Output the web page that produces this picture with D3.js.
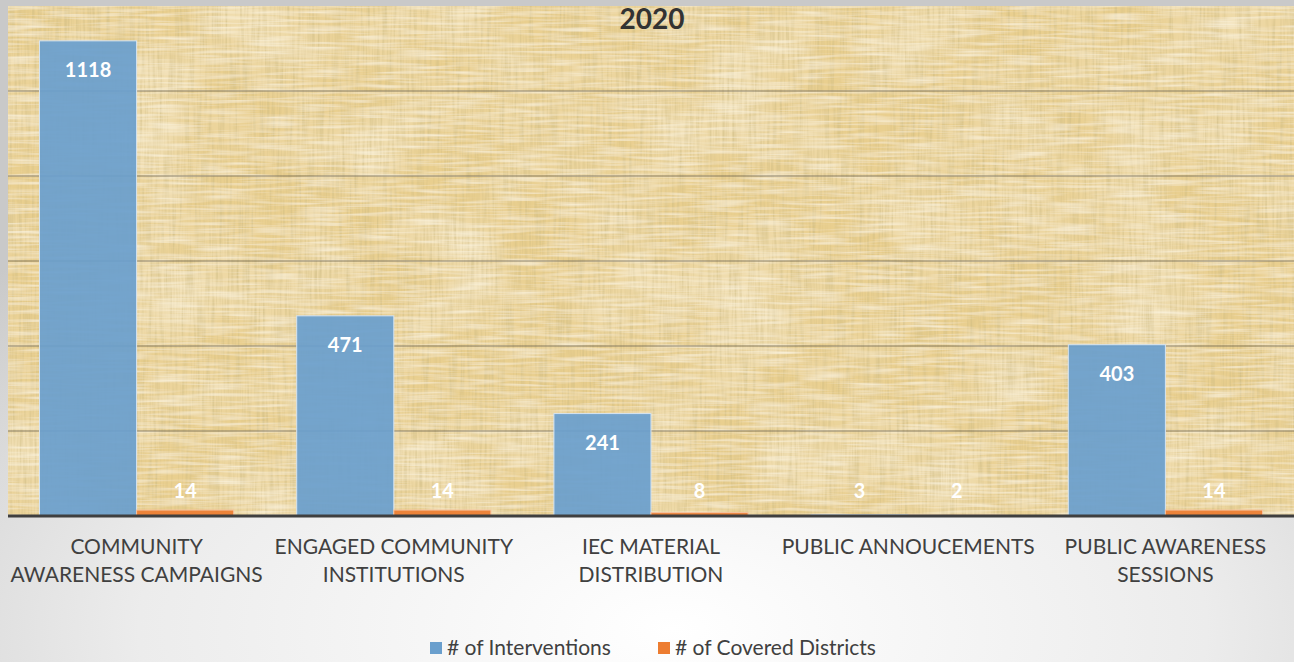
<!DOCTYPE html>
<html>
<head>
<meta charset="utf-8">
<script src="https://cdn.jsdelivr.net/npm/d3@7"></script>
<style>
  body { margin: 0; background: #fff; }
  svg { display: block; }
</style>
</head>
<body>
<svg id="chart" width="1294" height="662"></svg>
<script>
const categories = [
    ["COMMUNITY", "AWARENESS CAMPAIGNS"],
    ["ENGAGED COMMUNITY", "INSTITUTIONS"],
    ["IEC MATERIAL", "DISTRIBUTION"],
    ["PUBLIC ANNOUCEMENTS"],
    ["PUBLIC AWARENESS", "SESSIONS"],
];
const seriesNames = ["# of Interventions", "# of Covered Districts"];
const interventions = [1118, 471, 241, 3, 403];
const coveredDistricts = [14, 14, 8, 2, 14];
const yTicks = [0, 200, 400, 600, 800, 1000, 1200];
const colors = ["#6a9fcd", "#ed7d31"];

const W = 1294, H = 662;
const plot = { left: 8, right: 1294, top: 6, bottom: 516 };
const font = "Lato, 'Open Sans', sans-serif";

const svg = d3.select("#chart");
const defs = svg.append("defs");

// page background: soft grey radial gradient
const bg = defs.append("radialGradient").attr("id", "bg")
    .attr("cx", "52%").attr("cy", "95%").attr("r", "75%");
bg.append("stop").attr("offset", "0%").attr("stop-color", "#ffffff");
bg.append("stop").attr("offset", "55%").attr("stop-color", "#ececec");
bg.append("stop").attr("offset", "100%").attr("stop-color", "#c9c9c9");
svg.append("rect").attr("width", W).attr("height", H).attr("fill", "url(#bg)");

// papyrus-like texture for the plot area
const f = defs.append("filter").attr("id", "papyrus")
    .attr("x", 0).attr("y", 0).attr("width", 1).attr("height", 1);
f.append("feFlood").attr("flood-color", "#e9cf8f").attr("result", "base");
f.append("feTurbulence").attr("type", "fractalNoise")
    .attr("baseFrequency", "0.01 0.012").attr("numOctaves", 2).attr("seed", 5)
    .attr("result", "blot");
f.append("feColorMatrix").attr("in", "blot").attr("type", "matrix")
    .attr("values", "0 0 0 0 0.97  0 0 0 0 0.9  0 0 0 0 0.7  0 0 0 1.0 -0.4")
    .attr("result", "blotC");
f.append("feTurbulence").attr("type", "fractalNoise")
    .attr("baseFrequency", "0.4 0.02").attr("numOctaves", 2).attr("seed", 3)
    .attr("result", "vert");
f.append("feColorMatrix").attr("in", "vert").attr("type", "matrix")
    .attr("values", "0 0 0 0 0.62  0 0 0 0 0.5  0 0 0 0 0.22  0 0 0 1.4 -0.55")
    .attr("result", "vertC");
f.append("feTurbulence").attr("type", "fractalNoise")
    .attr("baseFrequency", "0.02 0.35").attr("numOctaves", 2).attr("seed", 8)
    .attr("result", "hor");
f.append("feColorMatrix").attr("in", "hor").attr("type", "matrix")
    .attr("values", "0 0 0 0 0.99  0 0 0 0 0.94  0 0 0 0 0.8  0 0 0 1.3 -0.5")
    .attr("result", "horC");
const merge = f.append("feMerge");
merge.append("feMergeNode").attr("in", "base");
merge.append("feMergeNode").attr("in", "blotC");
merge.append("feMergeNode").attr("in", "vertC");
merge.append("feMergeNode").attr("in", "horC");

svg.append("rect")
    .attr("x", plot.left).attr("y", plot.top)
    .attr("width", plot.right - plot.left).attr("height", plot.bottom - plot.top)
    .attr("fill", "#e9cf8f")
    .attr("filter", "url(#papyrus)");

const x = d3.scaleBand()
    .domain(d3.range(categories.length))
    .range([plot.left, plot.right])
    .paddingInner(0.245)
    .paddingOuter(0.1225);

const xs = d3.scaleBand()
    .domain([0, 1])
    .range([0, x.bandwidth()]);

const y = d3.scaleLinear()
    .domain([0, 1200])
    .range([plot.bottom, plot.top]);

// gridlines
svg.append("g")
    .selectAll("line")
    .data(yTicks.filter(d => d > 0 && d < 1200))
    .join("line")
    .attr("x1", plot.left).attr("x2", plot.right)
    .attr("y1", d => y(d)).attr("y2", d => y(d))
    .attr("stroke", "#6b6452").attr("stroke-opacity", 0.75).attr("stroke-width", 1.2);

const rows = categories.map((c, i) => [
    { i, s: 0, v: interventions[i] },
    { i, s: 1, v: coveredDistricts[i] },
]).flat();

// bars
svg.append("g")
    .selectAll("rect")
    .data(rows)
    .join("rect")
    .attr("x", d => x(d.i) + xs(d.s))
    .attr("y", d => y(d.v))
    .attr("width", xs.bandwidth())
    .attr("height", d => plot.bottom - y(d.v))
    .attr("fill", d => colors[d.s])
    .attr("fill-opacity", 0.93)
    .attr("stroke", d => d.s === 0 ? "#d6e4f1" : "#f6c3a0")
    .attr("stroke-width", 1);

// value labels (inside end)
svg.append("g")
    .selectAll("text")
    .data(rows)
    .join("text")
    .attr("x", d => x(d.i) + xs(d.s) + xs.bandwidth() / 2)
    .attr("y", d => Math.min(y(d.v) + 29, plot.bottom - 25))
    .attr("dy", "0.35em")
    .attr("text-anchor", "middle")
    .attr("font-family", font)
    .attr("font-weight", "bold")
    .attr("font-size", 20)
    .attr("fill", "#ffffff")
    .text(d => d.v);

// baseline axis
svg.append("line")
    .attr("x1", plot.left).attr("x2", plot.right)
    .attr("y1", plot.bottom).attr("y2", plot.bottom)
    .attr("stroke", "#3f3f3f").attr("stroke-width", 3);

// category labels
const catG = svg.append("g")
    .selectAll("text")
    .data(categories)
    .join("text")
    .attr("x", (d, i) => x(i) + x.bandwidth() / 2)
    .attr("y", 547)
    .attr("text-anchor", "middle")
    .attr("font-family", font)
    .attr("font-size", 21)
    .attr("fill", "#404040");
catG.selectAll("tspan")
    .data(d => d)
    .join("tspan")
    .attr("x", function() { return this.parentNode.getAttribute("x"); })
    .attr("dy", (d, j) => j === 0 ? "0.35em" : 28)
    .text(d => d);

// title
svg.append("text")
    .attr("x", 652).attr("y", 29)
    .attr("text-anchor", "middle")
    .attr("font-family", font)
    .attr("font-weight", "bold")
    .attr("font-size", 28)
    .attr("fill", "#333333")
    .text("2020");

// legend
const legendX = [430, 658];
const leg = svg.append("g")
    .selectAll("g")
    .data(seriesNames)
    .join("g")
    .attr("transform", (d, i) => `translate(${legendX[i]},648)`);
leg.append("rect")
    .attr("x", 0).attr("y", -6).attr("width", 12).attr("height", 12)
    .attr("fill", (d, i) => colors[i]);
leg.append("text")
    .attr("x", 17).attr("dy", "0.35em")
    .attr("font-family", font)
    .attr("font-size", 21)
    .attr("fill", "#404040")
    .text(d => d);
</script>
</body>
</html>
